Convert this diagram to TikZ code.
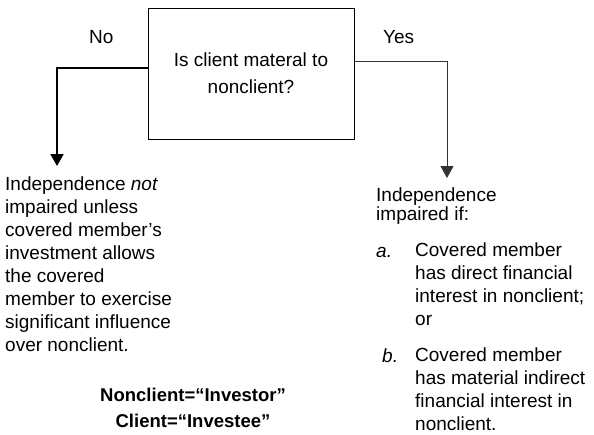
\documentclass[tikz,border=0pt]{standalone}
\usepackage{fontspec}
\setmainfont{Liberation Sans}
\usetikzlibrary{arrows.meta}

\begin{document}
\begin{tikzpicture}[x=1pt, y=-1pt,
    every node/.style={inner sep=0pt, font=\fontsize{19}{23}\selectfont},
    qbox/.style={draw, line width=1pt, minimum width=206pt, minimum height=131pt,
      align=center, font=\fontsize{19}{27}\selectfont},
    lbl/.style={anchor=base west},
    txt/.style={anchor=north west, align=left},
    noarrow/.style={line width=2pt, -{Triangle[width=13pt,length=12pt]}},
    yesarrow/.style={line width=1pt, black!80, -{Triangle[width=13pt,length=12pt]}}]
  \useasboundingbox (0,0) rectangle (594,434);

  \node[qbox] (q) at (251,73.5) {Is client materal to\\nonclient?};

  \node[lbl] (no) at (89,43) {No};
  \node[lbl] (yes) at (383,43) {Yes};

  \coordinate (ntip) at (57,166);
  \coordinate (ytip) at (447,178);
  \draw[noarrow] ([yshift=5.5pt]q.west) -| (ntip);
  \draw[yesarrow] ([yshift=12.5pt]q.east) -| (ytip);

  % left branch
  \node[txt] (notimp) at (5,177) {Independence \textit{not}\\impaired unless\\covered member's\\investment allows\\the covered\\member to exercise\\significant influence\\over nonclient.};

  \node[align=center, anchor=north, font=\bfseries\fontsize{18.5}{26}\selectfont] (roles) at (193,388)
    {Nonclient=“Investor”\\Client=“Investee”};

  % right branch
  \node[txt, font=\fontsize{19}{17}\selectfont] (imp) at (376,188) {Independence\\impaired if:};
  \node[lbl] (ma) at (376,257) {\textit{a.}};
  \node[txt] (ta) at (415,243) {Covered member\\has direct financial\\interest in nonclient;\\or};
  \node[lbl] (mb) at (382,362) {\textit{b.}};
  \node[txt] (tb) at (415,348) {Covered member\\has material indirect\\financial interest in\\nonclient.};
\end{tikzpicture}
\end{document}
